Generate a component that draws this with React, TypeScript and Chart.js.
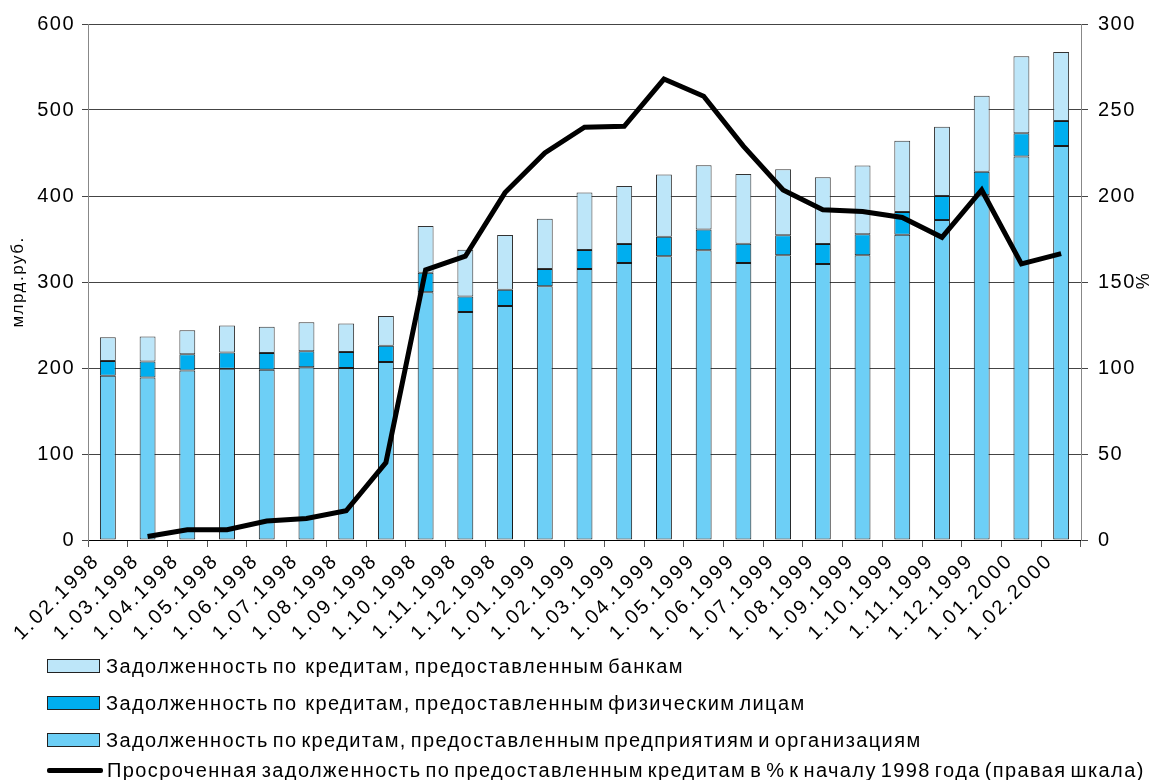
import React, { useEffect, useRef } from 'react';
import { Chart, registerables } from 'chart.js';

Chart.register(...registerables);

const categories = [
  '1.02.1998', '1.03.1998', '1.04.1998', '1.05.1998', '1.06.1998', '1.07.1998', '1.08.1998',
  '1.09.1998', '1.10.1998', '1.11.1998', '1.12.1998', '1.01.1999', '1.02.1999', '1.03.1999',
  '1.04.1999', '1.05.1999', '1.06.1999', '1.07.1999', '1.08.1999', '1.09.1999', '1.10.1999',
  '1.11.1999', '1.12.1999', '1.01.2000', '1.02.2000',
];

const enterprises = [191, 189, 197, 199, 198, 201, 200, 207, 288, 265, 272, 295, 315, 322, 330, 337, 322, 331, 321, 331, 355, 372, 401, 446, 458];
const individuals = [17, 18.6, 19, 19, 19.4, 18.5, 18.6, 19, 22.8, 18.2, 19, 20, 22.1, 22.1, 22.5, 24.1, 22.5, 23.3, 23.3, 24.4, 26.4, 28, 27.3, 27.1, 29.1];
const banks = [27.7, 29, 27.9, 31.4, 30.6, 33.7, 33, 34.5, 54.2, 54.2, 63.6, 58.5, 67.1, 67.5, 72.5, 74.7, 81, 76.7, 77.5, 80.2, 82.9, 80.6, 88.3, 89.5, 80.2];
const overdue = [null, 2, 6, 6, 11, 12.5, 17, 45, 157, 165, 202, 225, 240, 240.5, 268, 258, 229, 203.5, 192, 191, 187.5, 176, 203.5, 160.5, 166.5];

const leftAxisTitle = 'млрд.руб.';
const rightAxisTitle = '%';

const legendItems = [
  { label: 'Задолженность по  кредитам, предоставленным банкам', color: '#BDE6F9', kind: 'box' },
  { label: 'Задолженность по  кредитам, предоставленным физическим лицам', color: '#00AEEF', kind: 'box' },
  { label: 'Задолженность по кредитам, предоставленным предприятиям и организациям', color: '#6DCFF6', kind: 'box' },
  { label: 'Просроченная задолженность по предоставленным кредитам в % к началу 1998 года (правая шкала)', color: '#000000', kind: 'line' },
];

const FONT = "'Liberation Sans', Arial, Helvetica, sans-serif";

const letterSpacingPlugin = {
  id: 'letterSpacing',
  afterLayout(chart: any) {
    const s = chart.scales.x;
    if (s && !s.__wrapped) {
      const orig = s.drawLabels.bind(s);
      s.drawLabels = (area: any) => {
        const ctx = s.ctx;
        const prev = ctx.letterSpacing;
        try { ctx.letterSpacing = '2.6px'; } catch (e) { /* ignore */ }
        orig(area);
        try { ctx.letterSpacing = prev; } catch (e) { /* ignore */ }
      };
      s.__wrapped = true;
    }
  },
  beforeDraw(chart: any) {
    try { chart.ctx.letterSpacing = '1.5px'; } catch (e) { /* ignore */ }
  },
  afterDraw(chart: any) {
    try { chart.ctx.letterSpacing = '0px'; } catch (e) { /* ignore */ }
  },
};

export default function App() {
  const canvasRef = useRef<HTMLCanvasElement | null>(null);

  useEffect(() => {
    document.body.style.margin = '0';
    const canvas = canvasRef.current;
    if (!canvas) return;
    Chart.defaults.font.family = FONT;
    Chart.defaults.color = '#000';
    const barCommon = {
      borderWidth: 1,
      borderSkipped: false,
      stack: 's',
      yAxisID: 'y',
      order: 1,
      barPercentage: 0.4,
      categoryPercentage: 1,
    };
    const chart = new Chart(canvas, {
      type: 'bar',
      plugins: [letterSpacingPlugin],
      data: {
        labels: categories,
        datasets: [
          {
            type: 'line',
            label: legendItems[3].label,
            data: overdue,
            yAxisID: 'y1',
            borderColor: '#000',
            backgroundColor: '#000',
            borderWidth: 5,
            pointRadius: 0,
            tension: 0,
            order: 0,
            spanGaps: false,
          } as any,
          {
            ...barCommon,
            label: legendItems[2].label,
            data: enterprises,
            backgroundColor: '#6DCFF6',
            borderColor: '#1a1a1a',
          } as any,
          {
            ...barCommon,
            label: legendItems[1].label,
            data: individuals,
            backgroundColor: '#00AEEF',
            borderColor: '#1a1a1a',
          } as any,
          {
            ...barCommon,
            label: legendItems[0].label,
            data: banks,
            backgroundColor: '#BDE6F9',
            borderColor: '#333',
          } as any,
        ],
      },
      options: {
        responsive: false,
        animation: false,
        layout: { padding: { top: 24, left: 0, right: 0, bottom: 0 } },
        plugins: {
          legend: { display: false },
          tooltip: { enabled: false },
        },
        scales: {
          x: {
            stacked: true,
            offset: true,
            grid: {
              offset: true,
              drawOnChartArea: false,
              drawTicks: true,
              tickLength: 7,
              color: '#555',
            },
            border: { color: '#000', width: 1 },
            ticks: {
              autoSkip: false,
              maxRotation: 45,
              minRotation: 45,
              padding: 2,
              labelOffset: -11,
              font: { size: 20 },
              color: '#000',
            },
            afterFit: (scale: any) => {
              scale.height = 240;
            },
          },
          y: {
            stacked: true,
            position: 'left',
            min: 0,
            max: 600,
            ticks: { stepSize: 100, padding: 7, font: { size: 20 }, color: '#000' },
            grid: { color: '#444', tickLength: 6, lineWidth: 1 },
            border: { color: '#888', width: 1 },
            title: {
              display: true,
              text: leftAxisTitle,
              font: { size: 17 },
              color: '#000',
              padding: { top: 8, bottom: 4 },
            },
            afterFit: (scale: any) => {
              scale.width = 88;
            },
          },
          y1: {
            position: 'right',
            min: 0,
            max: 300,
            ticks: { stepSize: 50, padding: 10, font: { size: 20 }, color: '#000' },
            grid: { drawOnChartArea: false, tickLength: 7, color: '#444' },
            border: { color: '#888', width: 1 },
            title: {
              display: true,
              text: rightAxisTitle,
              font: { size: 18 },
              color: '#000',
              padding: { top: 10, bottom: 4 },
            },
            afterFit: (scale: any) => {
              scale.width = 81;
            },
          },
        },
      },
    });
    return () => chart.destroy();
  }, []);

  const rowCenters = [666, 703, 740, 770];

  return (
    <div style={{ position: 'relative', width: 1162, height: 780, overflow: 'hidden', background: '#fff' }}>
      <canvas ref={canvasRef} width={1162} height={780} style={{ display: 'block', width: 1162, height: 780 }} />
      {legendItems.map((item, i) => (
        <div
          key={i}
          style={{
            position: 'absolute',
            left: 47,
            top: rowCenters[i] - 11,
            height: 22,
            lineHeight: '22px',
            display: 'flex',
            alignItems: 'center',
            fontFamily: FONT,
            fontSize: 20,
            letterSpacing: '1.4px',
            wordSpacing: '-3px',
            color: '#000',
            whiteSpace: 'pre',
          }}
        >
          {item.kind === 'box' ? (
            <span
              style={{
                display: 'inline-block',
                width: 53,
                height: 14,
                background: item.color,
                border: '1px solid #222',
                boxSizing: 'border-box',
                marginRight: 6,
              }}
            />
          ) : (
            <span
              style={{
                display: 'inline-block',
                width: 56,
                height: 5,
                background: '#000',
                borderRadius: 2,
                marginRight: 4,
              }}
            />
          )}
          <span>{item.label}</span>
        </div>
      ))}
    </div>
  );
}
